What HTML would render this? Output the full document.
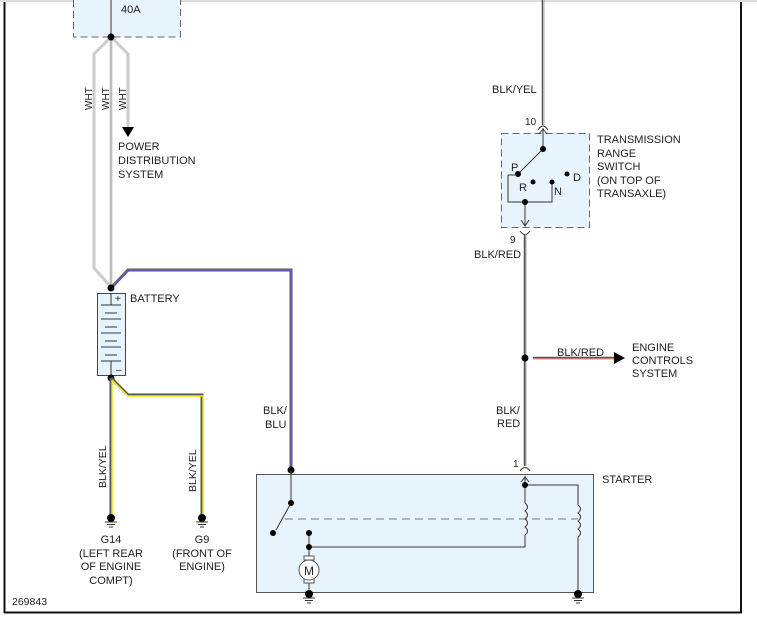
<!DOCTYPE html>
<html><head><meta charset="utf-8"><style>
html,body{margin:0;padding:0;background:#fff;}
svg{display:block;font-family:"Liberation Sans",Arial,sans-serif;font-size:11px;}
text{fill:#222;}
</style></head><body>
<svg width="757" height="622" viewBox="0 0 757 622" xmlns="http://www.w3.org/2000/svg">
<defs>
<g id="gnd"><circle cx="0" cy="0" r="4" fill="#000"/><line x1="-6" y1="4" x2="6" y2="4" stroke="#333" stroke-width="1"/><line x1="-4" y1="6.5" x2="4" y2="6.5" stroke="#333"/><line x1="-2" y1="9" x2="2" y2="9" stroke="#333"/></g>
</defs>
<line x1="0" y1="1" x2="757" y2="1" stroke="#ddd" stroke-width="2"/>
<line x1="4.5" y1="2" x2="4.5" y2="613" stroke="#111" stroke-width="2"/>
<line x1="741" y1="2" x2="741" y2="613" stroke="#111" stroke-width="2"/>
<line x1="4" y1="612.5" x2="742" y2="612.5" stroke="#111" stroke-width="2"/>

<!-- fuse box -->
<rect x="73.5" y="-5" width="107" height="42" fill="#e8f4fc" stroke="#666" stroke-dasharray="7,4"/>
<text x="121" y="13">40A</text>
<line x1="111" y1="0" x2="111" y2="37" stroke="#333"/>

<!-- WHT wires -->
<g fill="none" stroke="#ccc" stroke-width="3">
<polyline points="111,37 94,54 94,268 111,287"/>
<line x1="111" y1="37" x2="111" y2="287"/>
<polyline points="111,37 128,54 128,128"/>
</g>
<g fill="none" stroke="#999" stroke-width="0.6">
<line x1="111" y1="37" x2="111" y2="287"/>
</g>
<circle cx="111" cy="37" r="3.5" fill="#000"/>
<polygon points="122,127 134,127 128,137" fill="#000"/>
<text transform="translate(92,110) rotate(-90)" font-size="10">WHT</text>
<text transform="translate(109,110) rotate(-90)" font-size="10">WHT</text>
<text transform="translate(126,110) rotate(-90)" font-size="10">WHT</text>
<text x="118" y="150">POWER</text>
<text x="118" y="164">DISTRIBUTION</text>
<text x="118" y="178">SYSTEM</text>

<!-- blue wire -->
<polyline points="111,288 128,270 291,270 291,470" fill="none" stroke="#555" stroke-width="3"/>
<polyline points="111,288 128,270 291,270 291,470" fill="none" stroke="#6a5acd" stroke-width="1.5"/>
<text x="263" y="414">BLK/</text>
<text x="265" y="428">BLU</text>

<!-- battery -->
<rect x="97.5" y="293.5" width="28" height="82" fill="#e8f4fc" stroke="#444"/>
<text x="115" y="302" font-size="10">+</text>
<text x="116" y="373" font-size="10">–</text>
<g stroke="#333" stroke-width="1">
<line x1="111" y1="293" x2="111" y2="305"/>
<line x1="101" y1="305" x2="121" y2="305"/>
<line x1="105" y1="313" x2="117" y2="313"/>
<line x1="101" y1="319" x2="121" y2="319"/>
<line x1="105" y1="327" x2="117" y2="327"/>
<line x1="101" y1="333" x2="121" y2="333"/>
<line x1="105" y1="341" x2="117" y2="341"/>
<line x1="101" y1="347" x2="121" y2="347"/>
<line x1="105" y1="355" x2="117" y2="355"/>
<line x1="101" y1="361" x2="121" y2="361"/>
<line x1="111" y1="361" x2="111" y2="376"/>
</g>
<circle cx="111" cy="288" r="3.5" fill="#000"/>
<circle cx="111" cy="378" r="3.5" fill="#000"/>
<text x="130" y="302">BATTERY</text>

<!-- BLK/YEL -->
<g fill="none" stroke="#555" stroke-width="3">
<line x1="111" y1="378" x2="111" y2="515"/>
<polyline points="111,378 128,395 202,395 202,515"/>
</g>
<g fill="none" stroke="#f0e800" stroke-width="1.5">
<line x1="112" y1="380" x2="112" y2="515"/>
<polyline points="112,380 128,396 203,396 203,515"/>
</g>
<use href="#gnd" x="111" y="518"/>
<use href="#gnd" x="202" y="518"/>
<text transform="translate(106,488) rotate(-90)" font-size="10.5">BLK/YEL</text>
<text transform="translate(196,492) rotate(-90)" font-size="10.5">BLK/YEL</text>
<text x="111" y="543" text-anchor="middle">G14</text>
<text x="111" y="557" text-anchor="middle">(LEFT REAR</text>
<text x="111" y="570" text-anchor="middle">OF ENGINE</text>
<text x="111" y="584" text-anchor="middle">COMPT)</text>
<text x="202" y="543" text-anchor="middle">G9</text>
<text x="202" y="557" text-anchor="middle">(FRONT OF</text>
<text x="202" y="570" text-anchor="middle">ENGINE)</text>
<text x="12" y="605" font-size="10.5">269843</text>

<!-- top BLK/YEL wire to TRS -->
<line x1="543" y1="0" x2="543" y2="125" stroke="#555" stroke-width="2.5"/>
<line x1="543.5" y1="0" x2="543.5" y2="125" stroke="#e8e080" stroke-width="0.8"/>
<text x="492" y="93">BLK/YEL</text>
<text x="525" y="125" font-size="10">10</text>
<path d="M538,130 Q543,122 548,130" fill="none" stroke="#333"/>

<!-- TRS -->
<rect x="501.5" y="133.5" width="88" height="94" fill="#e8f4fc" stroke="#666" stroke-dasharray="7,4"/>
<g stroke="#333" fill="none">
<line x1="543" y1="128" x2="543" y2="149"/>
<polyline points="539,134 543,129 547,134"/>
<line x1="543" y1="149" x2="520" y2="172"/>
<polyline points="508,175 508,202 552,202 552,183"/>
<line x1="525" y1="202" x2="525" y2="226"/>
<polyline points="521,220 525,226 529,220"/>
</g>
<g fill="#000">
<circle cx="543" cy="149" r="3"/><circle cx="518" cy="174" r="3"/>
<circle cx="533" cy="182" r="2.5"/><circle cx="552" cy="182" r="2.5"/>
<circle cx="567" cy="174" r="2.5"/><circle cx="525" cy="202" r="3"/>
</g>
<line x1="508" y1="175" x2="518" y2="175" stroke="#333"/>
<text x="511" y="171">P</text><text x="519" y="191">R</text>
<text x="554" y="195">N</text><text x="573" y="181">D</text>
<text x="597" y="143">TRANSMISSION</text>
<text x="597" y="157">RANGE</text>
<text x="597" y="170">SWITCH</text>
<text x="597" y="184">(ON TOP OF</text>
<text x="597" y="197">TRANSAXLE)</text>
<text x="510" y="243" font-size="10">9</text>
<path d="M520,231 Q525,238 530,231" fill="none" stroke="#333"/>

<!-- BLK/RED -->
<line x1="525" y1="234" x2="525" y2="466" stroke="#555" stroke-width="2.5"/>
<line x1="525.5" y1="234" x2="525.5" y2="466" stroke="#f08080" stroke-width="0.8"/>
<line x1="533" y1="358" x2="615" y2="358" stroke="#555" stroke-width="2.5"/>
<line x1="533" y1="358.5" x2="615" y2="358.5" stroke="#f08080" stroke-width="0.8"/>
<polygon points="614,352 625,358 614,364" fill="#000"/>
<circle cx="525" cy="358" r="3.5" fill="#000"/>
<text x="474" y="258">BLK/RED</text>
<text x="557" y="356">BLK/RED</text>
<text x="632" y="351">ENGINE</text>
<text x="632" y="364">CONTROLS</text>
<text x="632" y="377">SYSTEM</text>
<text x="496" y="414">BLK/</text>
<text x="497" y="427">RED</text>
<text x="513" y="467" font-size="10">1</text>
<path d="M520,471 Q525,464 530,471" fill="none" stroke="#333"/>

<!-- starter -->
<rect x="256.5" y="474.5" width="337" height="118" fill="#e8f4fc" stroke="#555"/>
<text x="602" y="483">STARTER</text>
<circle cx="291" cy="470" r="3.5" fill="#000"/>
<g stroke="#333" fill="none">
<line x1="291" y1="470" x2="291" y2="503"/>
<line x1="291" y1="503" x2="276" y2="530"/>
<line x1="285" y1="519" x2="578" y2="519" stroke="#777" stroke-dasharray="8,5"/>
<line x1="309" y1="533" x2="309" y2="558"/>
<polyline points="309,547 525,547 525,535"/>
<line x1="525" y1="476" x2="525" y2="503"/>
<polyline points="521,482 525,477 529,482"/>
<polyline points="525,485 578,485 578,505"/>
<path d="M525,503 q5,4 0,8 q5,4 0,8 q5,4 0,8 q5,4 0,8"/>
<path d="M578,505 q5,4 0,8 q5,4 0,8 q5,4 0,8 q5,4 0,8"/>
<line x1="578" y1="537" x2="578" y2="593"/>
<line x1="309" y1="582" x2="309" y2="593"/>
</g>
<g fill="#000">
<circle cx="291" cy="503" r="3"/><circle cx="273" cy="533" r="3"/>
<circle cx="309" cy="533" r="3"/><circle cx="309" cy="547" r="3"/>
<circle cx="525" cy="485" r="3"/>
</g>
<rect x="304" y="556" width="10" height="4" fill="#fff" stroke="#555"/>
<rect x="304" y="579" width="10" height="4" fill="#fff" stroke="#555"/>
<circle cx="309" cy="570" r="10" fill="#fff" stroke="#555"/>
<text x="309" y="575" text-anchor="middle" font-size="12" fill="#444">M</text>
<use href="#gnd" x="309" y="594"/>
<use href="#gnd" x="578" y="594"/>
</svg>
</body></html>
